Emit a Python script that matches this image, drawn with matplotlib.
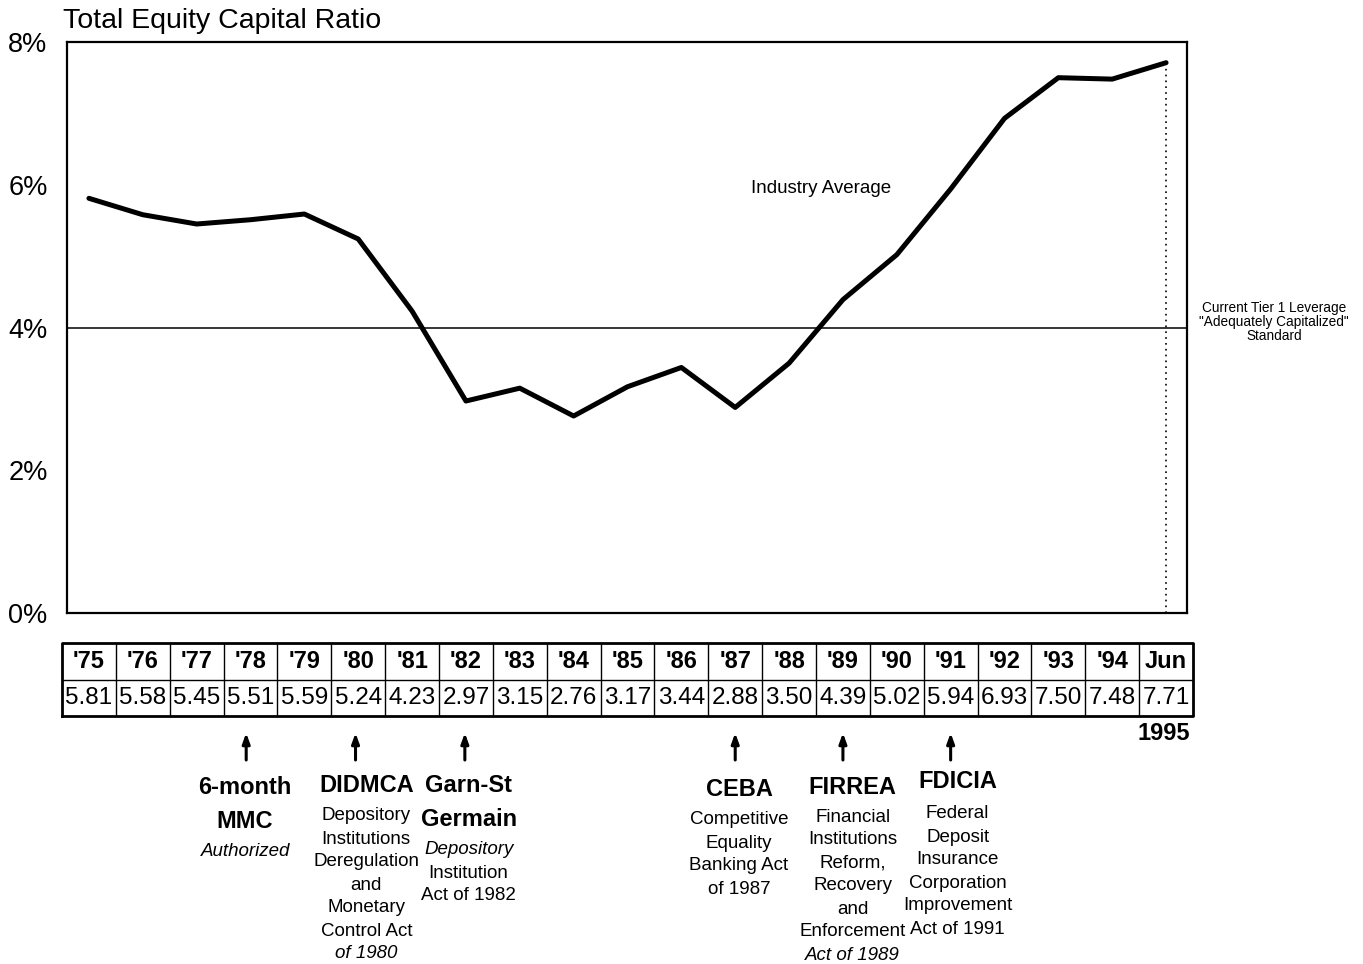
import matplotlib
matplotlib.use("Agg")
import matplotlib.pyplot as plt
import matplotlib.transforms as mtransforms

plt.rcParams['font.family'] = ['Liberation Sans', 'DejaVu Sans']

# Data

years = ["'75", "'76", "'77", "'78", "'79", "'80", "'81", "'82", "'83", "'84",
         "'85", "'86", "'87", "'88", "'89", "'90", "'91", "'92", "'93", "'94", "Jun"]
ratios = [5.81, 5.58, 5.45, 5.51, 5.59, 5.24, 4.23, 2.97, 3.15, 2.76,
          3.17, 3.44, 2.88, 3.50, 4.39, 5.02, 5.94, 6.93, 7.50, 7.48, 7.71]
ratio_labels = ["%.2f" % r for r in ratios]

y_ticks = [0, 2, 4, 6, 8]
y_tick_labels = ["0%", "2%", "4%", "6%", "8%"]
standard = 4.0

# legislation events: (year label, bold title lines, body lines, italic body lines)
events = [
    ("'78", ["6-month", "MMC"], ["Authorized"], [0]),
    ("'80", ["DIDMCA"], ["Depository", "Institutions", "Deregulation", "and",
                         "Monetary", "Control Act", "of 1980"], [6]),
    ("'82", ["Garn-St", "Germain"], ["Depository", "Institution", "Act of 1982"], [0]),
    ("'87", ["CEBA"], ["Competitive", "Equality", "Banking Act", "of 1987"], []),
    ("'89", ["FIRREA"], ["Financial", "Institutions", "Reform,", "Recovery", "and",
                         "Enforcement", "Act of 1989"], [6]),
    ("'91", ["FDICIA"], ["Federal", "Deposit", "Insurance", "Corporation",
                         "Improvement", "Act of 1991"], []),
]

# Layout (pixels of the 1363x964 picture)

W, H = 1363, 964
# arrow x offset, text x offset from the column, title top y, body top y
event_layout = [(-0.08, -0.1, 787, 851), (-0.05, 0.15, 785, 816),
                (-0.02, 0.05, 785, 850), (0.0, 0.07, 789, 820),
                (0.0, 0.18, 787, 817), (0.0, 0.13, 782, 814)]

fig = plt.figure(figsize=(W / 100, H / 100), dpi=100)

# Main chart

n = len(years)
col_w = (1193 - 62) / n
x0 = 62 + col_w / 2
ax = fig.add_axes([67 / W, 1 - 613 / H, (1187 - 67) / W, (613 - 42) / H])
ax.set_xlim((67 - x0) / col_w, (1187 - x0) / col_w)
ax.set_ylim(0, 8)

xs = list(range(n))
ax.plot(xs, ratios, color='black', lw=3.6, solid_joinstyle='round',
        solid_capstyle='round', zorder=3)
ax.axhline(standard, color='black', lw=1.1)
ax.plot([xs[-1], xs[-1]], [0, ratios[-1]], color='black', lw=1.2,
        linestyle=(0, (1, 2.5)))

ax.set_xticks([])
ax.set_yticks(y_ticks)
ax.set_yticklabels(y_tick_labels, fontsize=19.5)
ax.tick_params(axis='y', length=0, pad=14)
for s in ax.spines.values():
    s.set_linewidth(1.6)

ax.text(13.6, 5.95, "Industry Average", fontsize=13.5, ha='center', va='center')
fig.text(1274 / W, 1 - 322 / H,
         "Current Tier 1 Leverage\n\"Adequately Capitalized\"\nStandard",
         fontsize=9.8, ha='center', va='center', linespacing=1.0)
fig.text(63 / W, 1 - 21 / H, "Total Equity Capital Ratio", fontsize=20.5,
         ha='left', va='center')

# Data table under the chart

tax = fig.add_axes([62 / W, 1 - 716 / H, (1193 - 62) / W, (716 - 643) / H])
tax.set_xlim(-0.5, n - 0.5)
tax.set_ylim(0, 2)
tax.axis('off')
tax.plot([-0.5, n - 0.5, n - 0.5, -0.5, -0.5], [0, 0, 2, 2, 0], color='black',
         lw=2.0, clip_on=False)
tax.plot([-0.5, n - 0.5], [1, 1], color='black', lw=1.0)
for i in range(1, n):
    tax.plot([i - 0.5, i - 0.5], [0, 2], color='black', lw=1.0)
for i in range(n):
    tax.text(i, 1.5, years[i], fontsize=17, fontweight='bold', ha='center', va='center')
    tax.text(i, 0.5, ratio_labels[i], fontsize=17.5, ha='center', va='center')

fig.text(1190 / W, 1 - 733 / H, "1995", fontsize=17, fontweight='bold',
         ha='right', va='center')

# Legislation arrows and notes

trans = mtransforms.blended_transform_factory(tax.transData, fig.transFigure)
for (yr, titles, body, italics), (ax_dx, dx, ty, by) in zip(events, event_layout):
    xi = years.index(yr)
    tax.annotate("", xy=(xi + ax_dx, 1 - 733 / H), xytext=(xi + ax_dx, 1 - 760 / H),
                 xycoords=trans, textcoords=trans,
                 arrowprops=dict(arrowstyle='-|>,head_length=0.6,head_width=0.22',
                                 color='black', lw=2.2, shrinkA=0, shrinkB=0))
    for k, t in enumerate(titles):
        fig.text(xi + dx, 1 - (ty + 34 * k) / H, t, transform=trans, fontsize=17,
                 fontweight='bold', ha='center', va='center')
    for k, t in enumerate(body):
        fig.text(xi + dx, 1 - (by + 23 * k) / H, t, transform=trans, fontsize=13.5,
                 style='italic' if k in italics else 'normal',
                 ha='center', va='center')

fig.savefig("out.png", dpi=100)
